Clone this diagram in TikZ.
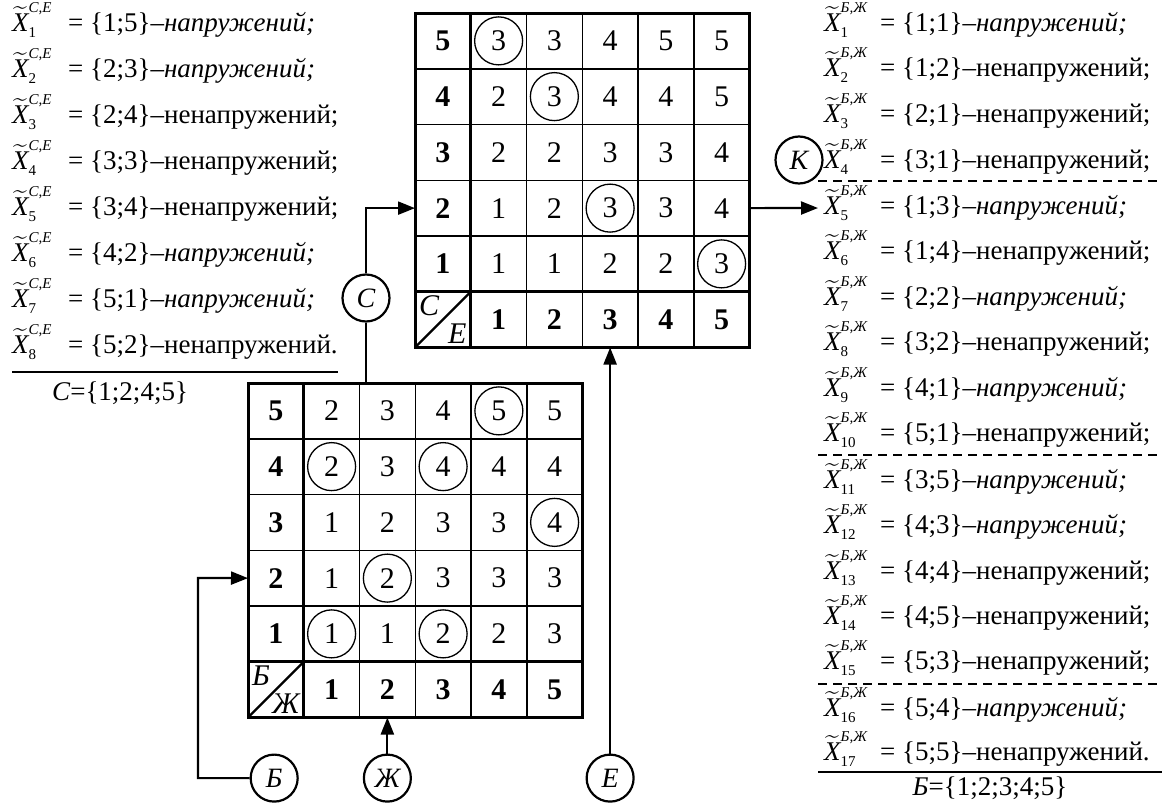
\documentclass[tikz,border=0pt]{standalone}
\usepackage{amsmath}
\usepackage{fontspec}
\setmainfont{Liberation Serif}
\usetikzlibrary{arrows.meta,positioning,calc}
\newcommand{\numfont}{\fontsize{30}{32}\selectfont}
\newcommand{\rowfont}{\fontsize{27}{30}\selectfont}
\newcommand{\scrfont}{\fontsize{15}{15}\selectfont}
\newcommand{\xs}[2]{\makebox[56pt][l]{$\widetilde{\text{\itshape X}}^{\text{\scrfont\itshape #1}}_{\text{\scrfont #2}}$}}

\begin{document}
\begin{tikzpicture}[x=1pt, y=-1pt,
    cell/.style={draw, line width=1.5pt, minimum size=55.75pt, inner sep=0pt, outer sep=0pt, font=\numfont},
    hdr/.style={cell, font=\numfont\bfseries},
    hit/.style={cell, path picture={\draw[line width=1.3pt] (path picture bounding box.center) circle (24pt);}},
    cnr/.style={inner sep=4pt, font=\fontsize{30}{30}\selectfont\itshape},
    thickln/.style={line width=3pt},
    lbl/.style={draw, circle, line width=2.2pt, minimum size=47pt, inner sep=0pt, font=\fontsize{28}{30}\selectfont\itshape},
    conn/.style={line width=2.2pt},
    tip/.style={-{Triangle[length=17pt, width=13pt]}},
    lst/.style={anchor=base west, inner sep=0pt, font=\rowfont},
    rule/.style={line width=1.6pt},
    sep/.style={line width=1.3pt, dash pattern=on 9pt off 6pt}
]
\useasboundingbox (0,0) rectangle (1162,803);

% --- top table (C / E) ---
\begin{scope}[shift={(415,13)}, x=55.75pt, y=-55.75pt]
\node[hdr] (tr5) at (0.5,0.5) {5}; \node[hit] (t51) at (1.5,0.5) {3}; \node[cell] (t52) at (2.5,0.5) {3}; \node[cell] (t53) at (3.5,0.5) {4}; \node[cell] (t54) at (4.5,0.5) {5}; \node[cell] (t55) at (5.5,0.5) {5};
\node[hdr] (tr4) at (0.5,1.5) {4}; \node[cell] (t41) at (1.5,1.5) {2}; \node[hit] (t42) at (2.5,1.5) {3}; \node[cell] (t43) at (3.5,1.5) {4}; \node[cell] (t44) at (4.5,1.5) {4}; \node[cell] (t45) at (5.5,1.5) {5};
\node[hdr] (tr3) at (0.5,2.5) {3}; \node[cell] (t31) at (1.5,2.5) {2}; \node[cell] (t32) at (2.5,2.5) {2}; \node[cell] (t33) at (3.5,2.5) {3}; \node[cell] (t34) at (4.5,2.5) {3}; \node[cell] (t35) at (5.5,2.5) {4};
\node[hdr] (tr2) at (0.5,3.5) {2}; \node[cell] (t21) at (1.5,3.5) {1}; \node[cell] (t22) at (2.5,3.5) {2}; \node[hit] (t23) at (3.5,3.5) {3}; \node[cell] (t24) at (4.5,3.5) {3}; \node[cell] (t25) at (5.5,3.5) {4};
\node[hdr] (tr1) at (0.5,4.5) {1}; \node[cell] (t11) at (1.5,4.5) {1}; \node[cell] (t12) at (2.5,4.5) {1}; \node[cell] (t13) at (3.5,4.5) {2}; \node[cell] (t14) at (4.5,4.5) {2}; \node[hit] (t15) at (5.5,4.5) {3};
\node[cell] (tcorner) at (0.5,5.5) {}; \node[hdr] (tc1) at (1.5,5.5) {1}; \node[hdr] (tc2) at (2.5,5.5) {2}; \node[hdr] (tc3) at (3.5,5.5) {3}; \node[hdr] (tc4) at (4.5,5.5) {4}; \node[hdr] (tc5) at (5.5,5.5) {5};
\end{scope}
\node[cnr, anchor=north west] (tcC) at (tcorner.north west) {С};
\node[cnr, anchor=south east] (tcE) at (tcorner.south east) {Е};
\draw[thickln] (tr5.north west) rectangle (tc5.south east);
\draw[thickln] (tr5.north east) -- (tcorner.south east);
\draw[thickln] (tcorner.north west) -- (tc5.north east);
\draw[line width=2.4pt] (tcorner.south west) -- (tcorner.north east);

% --- bottom table (Б / Ж) ---
\begin{scope}[shift={(248,383)}, x=55.75pt, y=-55.75pt]
\node[hdr] (br5) at (0.5,0.5) {5}; \node[cell] (b51) at (1.5,0.5) {2}; \node[cell] (b52) at (2.5,0.5) {3}; \node[cell] (b53) at (3.5,0.5) {4}; \node[hit] (b54) at (4.5,0.5) {5}; \node[cell] (b55) at (5.5,0.5) {5};
\node[hdr] (br4) at (0.5,1.5) {4}; \node[hit] (b41) at (1.5,1.5) {2}; \node[cell] (b42) at (2.5,1.5) {3}; \node[hit] (b43) at (3.5,1.5) {4}; \node[cell] (b44) at (4.5,1.5) {4}; \node[cell] (b45) at (5.5,1.5) {4};
\node[hdr] (br3) at (0.5,2.5) {3}; \node[cell] (b31) at (1.5,2.5) {1}; \node[cell] (b32) at (2.5,2.5) {2}; \node[cell] (b33) at (3.5,2.5) {3}; \node[cell] (b34) at (4.5,2.5) {3}; \node[hit] (b35) at (5.5,2.5) {4};
\node[hdr] (br2) at (0.5,3.5) {2}; \node[cell] (b21) at (1.5,3.5) {1}; \node[hit] (b22) at (2.5,3.5) {2}; \node[cell] (b23) at (3.5,3.5) {3}; \node[cell] (b24) at (4.5,3.5) {3}; \node[cell] (b25) at (5.5,3.5) {3};
\node[hdr] (br1) at (0.5,4.5) {1}; \node[hit] (b11) at (1.5,4.5) {1}; \node[cell] (b12) at (2.5,4.5) {1}; \node[hit] (b13) at (3.5,4.5) {2}; \node[cell] (b14) at (4.5,4.5) {2}; \node[cell] (b15) at (5.5,4.5) {3};
\node[cell] (bcorner) at (0.5,5.5) {}; \node[hdr] (bc1) at (1.5,5.5) {1}; \node[hdr] (bc2) at (2.5,5.5) {2}; \node[hdr] (bc3) at (3.5,5.5) {3}; \node[hdr] (bc4) at (4.5,5.5) {4}; \node[hdr] (bc5) at (5.5,5.5) {5};
\end{scope}
\node[cnr, anchor=north west] (bcB) at (bcorner.north west) {Б};
\node[cnr, anchor=south east] (bcZh) at (bcorner.south east) {Ж};
\draw[thickln] (br5.north west) rectangle (bc5.south east);
\draw[thickln] (br5.north east) -- (bcorner.south east);
\draw[thickln] (bcorner.north west) -- (bc5.north east);
\draw[line width=2.4pt] (bcorner.south west) -- (bcorner.north east);

% --- circled inputs / output ---
\node[lbl] (cC) at (366,298) {С};
\node[lbl] (cK) at (799,160) {К};
\node[lbl, below=36pt of bc2] (cZh) {Ж};
\node[lbl, left=64pt of cZh] (cB) {Б};
\node[lbl] (cE) at (tc3 |- cZh) {Е};
\coordinate (bturn) at (198,578);
\coordinate (kin) at (818,208);

% --- connections ---
\draw[conn, tip] (cC) |- (tr2.west);
\draw[conn] (cC) -- (cC |- br5.north);
\draw[conn, tip] (t25.east) -- (kin);
\draw[conn, tip] (cB) -| (bturn) -- (br2.west);
\draw[conn, tip] (cZh) -- (bc2.south);
\draw[conn, tip] (cE) -- (tc3.south);

% --- left list (C,E) ---
\node[lst] (ce1) at (12,31) {\xs{С,Е}{1}= \{1;5\}–\textit{напружений;}};
\node[lst] (ce2) at (12,77) {\xs{С,Е}{2}= \{2;3\}–\textit{напружений;}};
\node[lst] (ce3) at (12,123) {\xs{С,Е}{3}= \{2;4\}–ненапружений;};
\node[lst] (ce4) at (12,169) {\xs{С,Е}{4}= \{3;3\}–ненапружений;};
\node[lst] (ce5) at (12,215) {\xs{С,Е}{5}= \{3;4\}–ненапружений;};
\node[lst] (ce6) at (12,261) {\xs{С,Е}{6}= \{4;2\}–\textit{напружений;}};
\node[lst] (ce7) at (12,307) {\xs{С,Е}{7}= \{5;1\}–\textit{напружений;}};
\node[lst] (ce8) at (12,353) {\xs{С,Е}{8}= \{5;2\}–ненапружений.};
\draw[rule] (12,372) -- (338,372);
\node[lst, anchor=base] (cset) at (120,400) {\textit{С}=\{1;2;4;5\}};

% --- right list (Б,Ж) ---
\node[lst] (bz1) at (824,31) {\xs{Б,Ж}{1}= \{1;1\}–\textit{напружений;}};
\node[lst] (bz2) at (824,76) {\xs{Б,Ж}{2}= \{1;2\}–ненапружений;};
\node[lst] (bz3) at (824,122) {\xs{Б,Ж}{3}= \{2;1\}–ненапружений;};
\node[lst] (bz4) at (824,168) {\xs{Б,Ж}{4}= \{3;1\}–ненапружений;};
\node[lst] (bz5) at (824,214) {\xs{Б,Ж}{5}= \{1;3\}–\textit{напружений;}};
\node[lst] (bz6) at (824,259) {\xs{Б,Ж}{6}= \{1;4\}–ненапружений;};
\node[lst] (bz7) at (824,305) {\xs{Б,Ж}{7}= \{2;2\}–\textit{напружений;}};
\node[lst] (bz8) at (824,350) {\xs{Б,Ж}{8}= \{3;2\}–ненапружений;};
\node[lst] (bz9) at (824,396) {\xs{Б,Ж}{9}= \{4;1\}–\textit{напружений;}};
\node[lst] (bz10) at (824,441) {\xs{Б,Ж}{10}= \{5;1\}–ненапружений;};
\node[lst] (bz11) at (824,488) {\xs{Б,Ж}{11}= \{3;5\}–\textit{напружений;}};
\node[lst] (bz12) at (824,533) {\xs{Б,Ж}{12}= \{4;3\}–\textit{напружений;}};
\node[lst] (bz13) at (824,579) {\xs{Б,Ж}{13}= \{4;4\}–ненапружений;};
\node[lst] (bz14) at (824,624) {\xs{Б,Ж}{14}= \{4;5\}–ненапружений;};
\node[lst] (bz15) at (824,669) {\xs{Б,Ж}{15}= \{5;3\}–ненапружений;};
\node[lst] (bz16) at (824,716) {\xs{Б,Ж}{16}= \{5;4\}–\textit{напружений;}};
\node[lst] (bz17) at (824,760) {\xs{Б,Ж}{17}= \{5;5\}–ненапружений.};
\draw[sep] (818,181) -- (1162,181);
\draw[sep] (818,455) -- (1162,455);
\draw[sep] (818,684) -- (1162,684);
\draw[rule] (818,772) -- (1162,772);
\node[lst, anchor=base] (bset) at (990,795) {\textit{Б}=\{1;2;3;4;5\}};

\end{tikzpicture}
\end{document}
